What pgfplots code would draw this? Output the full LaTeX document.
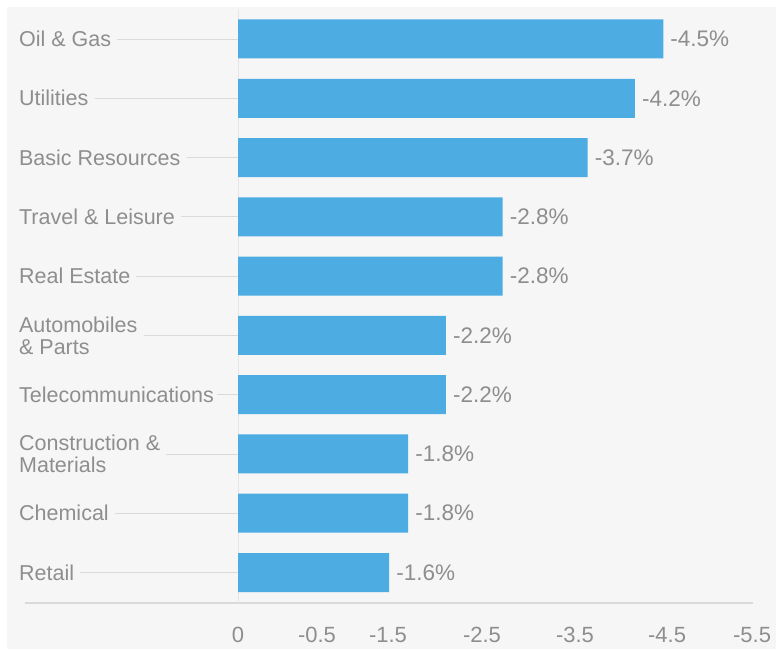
\documentclass[border=0pt]{standalone}
\usepackage{pgfplots}
\pgfplotsset{compat=1.18}
\usepackage{pgfplotstable}
\usetikzlibrary{backgrounds}
\usepackage{fontspec}
\setmainfont{Liberation Sans}
\definecolor{barblue}{HTML}{4DADE2}
\definecolor{txt}{HTML}{8E8E8E}
\definecolor{panel}{HTML}{F6F6F6}
\definecolor{rulec}{HTML}{DADADA}

\pgfplotstableread{
y x lab
9 -4.5 -4.5
8 -4.2 -4.2
7 -3.7 -3.7
6 -2.8 -2.8
5 -2.8 -2.8
4 -2.2 -2.2
3 -2.2 -2.2
2 -1.8 -1.8
1 -1.8 -1.8
0 -1.6 -1.6
}\datatable

\newcommand{\lblfont}{\fontsize{21.5}{22}\selectfont}

\begin{document}
\begin{tikzpicture}
\begin{axis}[
  scale only axis, width=728pt, height=595pt,
  x dir=reverse,
  xmin=-5.450, xmax=2.254,
  ymin=-0.5145, ymax=9.523,
  axis line style={draw=none},
  major tick length=0pt,
  ytick=\empty,
  xtick={0,-0.836,-1.587,-2.582,-3.566,-4.54,-5.44},
  xticklabels={0,-0.5,-1.5,-2.5,-3.5,-4.5,-5.5},
  xticklabel style={anchor=base, yshift=-39.5pt, font=\fontsize{22}{22}\selectfont, text=txt},
  clip=false,
]
\coordinate (imgA) at (axis cs:2.5186,-1.2905);
\coordinate (imgB) at (axis cs:-5.6930,9.658);
\coordinate (panA) at (axis cs:2.4445,-1.2905);
\coordinate (panB) at (axis cs:-5.6930,9.540);

\draw[rulec, line width=1.2pt] (axis cs:2.254,-0.5145) -- (axis cs:-5.450,-0.5145);
\draw[rulec!70, line width=0.8pt] (axis cs:0,-0.5145) -- (axis cs:0,9.5);

\node[anchor=west, align=left, font=\lblfont, text=txt, inner sep=0pt] (c9) at (axis cs:2.318,9) {Oil \& Gas};
\node[anchor=west, align=left, font=\lblfont, text=txt, inner sep=0pt] (c8) at (axis cs:2.318,8) {Utilities};
\node[anchor=west, align=left, font=\lblfont, text=txt, inner sep=0pt] (c7) at (axis cs:2.318,7) {Basic Resources};
\node[anchor=west, align=left, font=\lblfont, text=txt, inner sep=0pt] (c6) at (axis cs:2.318,6) {Travel \& Leisure};
\node[anchor=west, align=left, font=\lblfont, text=txt, inner sep=0pt] (c5) at (axis cs:2.318,5) {Real Estate};
\node[anchor=west, align=left, font=\lblfont, text=txt, inner sep=0pt] (c4) at (axis cs:2.318,4) {Automobiles\\\& Parts};
\node[anchor=west, align=left, font=\lblfont, text=txt, inner sep=0pt] (c3) at (axis cs:2.318,3) {Telecommunications};
\node[anchor=west, align=left, font=\lblfont, text=txt, inner sep=0pt] (c2) at (axis cs:2.318,2) {Construction \&\\Materials};
\node[anchor=west, align=left, font=\lblfont, text=txt, inner sep=0pt] (c1) at (axis cs:2.318,1) {Chemical};
\node[anchor=west, align=left, font=\lblfont, text=txt, inner sep=0pt] (c0) at (axis cs:2.318,0) {Retail};
\draw[rulec, line width=0.8pt] ([xshift=6pt]c9.east) -- (axis cs:0,9);
\draw[rulec, line width=0.8pt] ([xshift=6pt]c8.east) -- (axis cs:0,8);
\draw[rulec, line width=0.8pt] ([xshift=6pt]c7.east) -- (axis cs:0,7);
\draw[rulec, line width=0.8pt] ([xshift=6pt]c6.east) -- (axis cs:0,6);
\draw[rulec, line width=0.8pt] ([xshift=6pt]c5.east) -- (axis cs:0,5);
\draw[rulec, line width=0.8pt] ([xshift=6pt]c4.east) -- (axis cs:0,4);
\draw[rulec, line width=0.8pt] ([xshift=3pt]c3.east) -- (axis cs:0,3);
\draw[rulec, line width=0.8pt] ([xshift=6pt]c2.east) -- (axis cs:0,2);
\draw[rulec, line width=0.8pt] ([xshift=6pt]c1.east) -- (axis cs:0,1);
\draw[rulec, line width=0.8pt] ([xshift=6pt]c0.east) -- (axis cs:0,0);

\addplot[xbar, bar width=39pt, bar shift=0pt, fill=barblue, draw=none,
  nodes near coords={\pgfplotspointmeta\%},
  point meta=explicit symbolic,
  nodes near coords style={anchor=west, font=\fontsize{22.5}{22}\selectfont, text=txt, inner sep=0pt, xshift=7pt},
] table[x=x, y=y, meta=lab] {\datatable};
\end{axis}
\begin{scope}[on background layer]
\fill[white] (imgA) rectangle (imgB);
\fill[panel] (panA) rectangle (panB);
\end{scope}
\end{tikzpicture}
\end{document}
